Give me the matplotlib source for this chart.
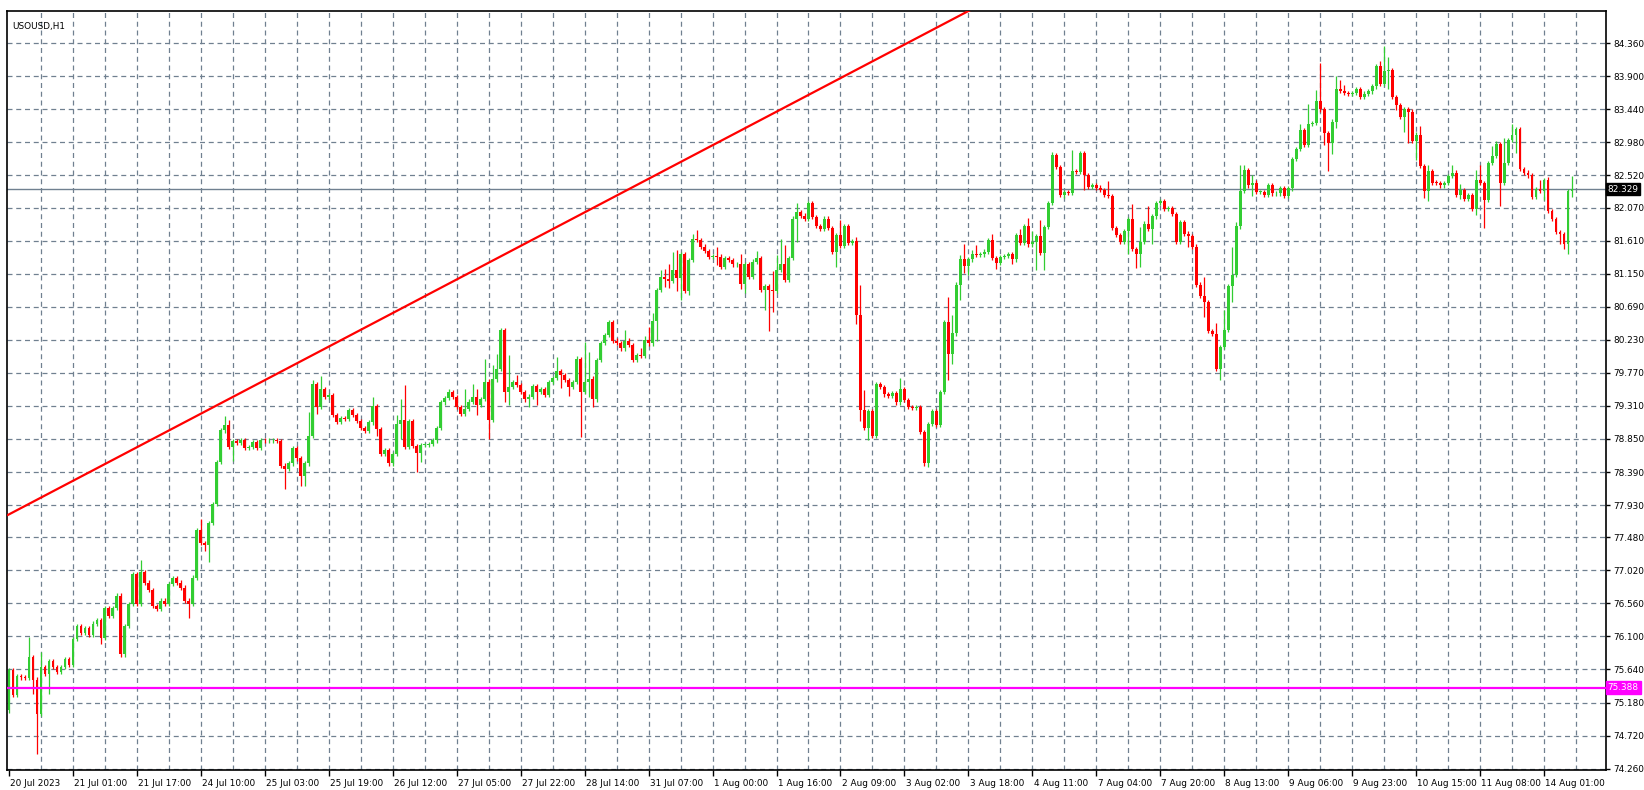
import matplotlib
matplotlib.use("Agg")
import matplotlib.pyplot as plt
import numpy as np

# hourly closes, USOUSD H1, 20 Jul 2023 .. 14 Aug 2023
closes = [
    75.63, 75.28, 75.55, 75.53, 75.52, 75.81, 75.50, 75.02, 75.67, 75.58,
    75.76, 75.67, 75.60, 75.67, 75.78, 75.70, 76.06, 76.25, 76.15, 76.22,
    76.12, 76.28, 76.33, 76.08, 76.50, 76.38, 76.50, 76.67, 75.85, 76.25,
    76.55, 76.97, 76.55, 77.00, 76.85, 76.75, 76.52, 76.48, 76.60, 76.55,
    76.83, 76.91, 76.85, 76.78, 76.60, 76.55, 76.92, 77.58, 77.40, 77.37,
    77.68, 77.94, 78.53, 78.97, 79.04, 78.74, 78.82, 78.80, 78.83, 78.72,
    78.74, 78.81, 78.73, 78.84, 78.83, 78.83, 78.84, 78.82, 78.48, 78.43,
    78.51, 78.72, 78.58, 78.33, 78.51, 78.89, 79.61, 79.30, 79.55, 79.43,
    79.46, 79.18, 79.09, 79.14, 79.13, 79.25, 79.18, 79.10, 79.00, 78.96,
    79.08, 79.31, 78.99, 78.64, 78.69, 78.51, 78.64, 79.06, 79.12, 78.74,
    79.10, 78.75, 78.65, 78.77, 78.77, 78.78, 78.83, 79.00, 79.36, 79.42,
    79.50, 79.43, 79.30, 79.20, 79.27, 79.37, 79.44, 79.32, 79.41, 79.65,
    79.12, 79.68, 79.83, 80.37, 79.50, 79.57, 79.64, 79.60, 79.50, 79.40,
    79.44, 79.59, 79.50, 79.54, 79.46, 79.64, 79.70, 79.79, 79.74, 79.67,
    79.57, 79.64, 79.96, 79.50, 79.64, 79.69, 79.40, 79.95, 80.19, 80.30,
    80.48, 80.22, 80.19, 80.11, 80.22, 80.16, 79.95, 80.02, 80.01, 80.23,
    80.18, 80.49, 80.92, 81.10, 81.08, 81.05, 81.20, 81.09, 81.43, 80.91,
    81.34, 81.64, 81.62, 81.53, 81.47, 81.39, 81.40, 81.39, 81.25, 81.37,
    81.34, 81.28, 81.29, 81.01, 81.28, 81.11, 81.32, 81.37, 80.92, 80.98,
    80.93, 80.91, 81.20, 81.29, 81.06, 81.37, 81.92, 82.01, 81.96, 81.91,
    82.14, 81.94, 81.82, 81.77, 81.92, 81.79, 81.46, 81.69, 81.54, 81.81,
    81.58, 81.61, 80.57, 79.26, 79.00, 79.24, 78.89, 79.62, 79.57, 79.47,
    79.45, 79.49, 79.36, 79.55, 79.39, 79.30, 79.28, 79.29, 78.95, 78.52,
    79.06, 79.24, 79.04, 79.50, 80.48, 80.03, 80.32, 81.00, 81.35, 81.26,
    81.35, 81.43, 81.41, 81.42, 81.46, 81.62, 81.37, 81.30, 81.38, 81.40,
    81.42, 81.35, 81.69, 81.58, 81.81, 81.56, 81.60, 81.67, 81.44, 81.80,
    82.14, 82.80, 82.64, 82.25, 82.29, 82.28, 82.58, 82.57, 82.83, 82.52,
    82.36, 82.39, 82.35, 82.32, 82.25, 82.23, 81.79, 81.69, 81.60, 81.74,
    81.91, 81.50, 81.43, 81.60, 81.85, 81.77, 81.95, 82.14, 82.16, 82.05,
    82.06, 81.98, 81.59, 81.87, 81.71, 81.67, 81.53, 81.00, 80.84, 80.76,
    80.35, 80.31, 79.83, 80.13, 80.37, 80.98, 81.14, 81.81, 82.30, 82.60,
    82.38, 82.42, 82.29, 82.29, 82.25, 82.38, 82.27, 82.27, 82.34, 82.23,
    82.34, 82.75, 82.89, 83.15, 82.94, 83.24, 83.25, 83.56, 83.44, 83.11,
    82.97, 83.27, 83.72, 83.70, 83.67, 83.65, 83.67, 83.72, 83.61, 83.66,
    83.69, 83.76, 84.04, 83.80, 83.97, 83.99, 83.61, 83.50, 83.34, 83.45,
    83.41, 83.00, 83.09, 82.65, 82.31, 82.58, 82.42, 82.41, 82.38, 82.41,
    82.51, 82.56, 82.25, 82.32, 82.19, 82.25, 82.05, 82.45, 82.41, 82.18,
    82.69, 82.79, 82.96, 82.42, 82.70, 83.01, 83.08, 83.16, 82.61, 82.56,
    82.52, 82.22, 82.33, 82.31, 82.45, 82.02, 81.91, 81.73, 81.70, 81.56,
    82.30, 82.33,
]
first_open = 75.07

# wick extremes that stick out noticeably
hi_spikes = {5: 76.09, 8: 75.88, 33: 77.16, 48: 77.73, 54: 79.17, 55: 79.12,
             75: 79.23, 76: 79.67, 78: 79.72, 91: 79.43, 97: 79.18, 98: 79.40,
             99: 79.60, 110: 79.54, 114: 79.55, 116: 79.61, 117: 79.54,
             119: 79.97, 121: 79.88, 122: 80.04, 123: 80.40, 125: 80.02,
             127: 79.74, 137: 79.99, 142: 80.01, 144: 80.20, 145: 80.06,
             150: 80.50, 154: 80.37, 158: 80.11, 159: 80.28, 160: 80.41,
             161: 80.60, 162: 80.94, 163: 81.20, 164: 81.22, 165: 81.28,
             166: 81.46, 167: 81.48, 171: 81.71, 172: 81.76, 177: 81.53,
             183: 81.43, 187: 81.47, 191: 81.19, 192: 81.41, 193: 81.64,
             194: 81.55, 196: 81.95, 197: 82.14, 208: 81.90, 212: 81.66,
             213: 81.00, 214: 79.53, 223: 79.70, 235: 80.83, 236: 80.57,
             238: 81.41, 239: 81.57, 241: 81.48, 242: 81.55, 246: 81.70,
             253: 81.77, 255: 81.93, 256: 81.74, 258: 81.90, 261: 82.85,
             262: 82.83, 266: 82.88, 268: 82.85, 275: 82.44, 281: 82.12,
             283: 81.80, 285: 82.09, 299: 81.11, 302: 80.46, 304: 80.64,
             306: 81.53, 307: 81.87, 308: 82.66, 309: 82.66, 311: 82.52,
             323: 83.24, 325: 83.52, 327: 83.71, 328: 84.09, 332: 83.90,
             333: 83.85, 334: 83.78, 342: 84.06, 343: 84.12, 344: 84.32,
             345: 84.17, 353: 83.21, 355: 82.66, 361: 82.66, 363: 82.40,
             367: 82.59, 368: 82.66, 371: 82.93, 372: 83.00, 374: 83.04,
             376: 83.24, 378: 83.18, 383: 82.45, 385: 82.50, 391: 82.51}
lo_spikes = {6: 75.30, 7: 74.46, 10: 75.30, 23: 75.99, 29: 75.81, 45: 76.35,
             49: 77.29, 50: 77.14, 56: 78.55, 69: 78.16, 73: 78.20, 74: 78.19,
             77: 79.20, 92: 78.89, 98: 78.85, 102: 78.39, 103: 78.53,
             117: 79.18, 120: 78.85, 121: 79.09, 124: 79.37, 125: 79.33,
             130: 79.30, 132: 79.33, 138: 79.56, 140: 79.45, 143: 78.88,
             145: 79.44, 146: 79.29, 162: 80.22, 164: 80.96, 165: 80.95,
             167: 80.91, 168: 80.79, 169: 80.88, 170: 80.85, 177: 81.27,
             183: 80.94, 184: 80.88, 189: 80.64, 190: 80.36, 191: 80.62,
             197: 81.60, 207: 81.25, 212: 80.45, 213: 79.10, 215: 78.83,
             229: 78.48, 230: 78.46, 235: 79.67, 236: 79.90, 238: 80.78,
             239: 81.16, 240: 81.13, 247: 81.22, 251: 81.28, 257: 81.21,
             259: 81.21, 264: 82.20, 269: 82.32, 280: 81.43, 282: 81.23,
             283: 81.25, 286: 81.57, 295: 81.53, 299: 80.55, 303: 79.67,
             306: 80.76, 308: 82.14, 311: 82.23, 329: 82.94, 330: 82.58,
             331: 82.82, 332: 83.18, 345: 83.73, 347: 83.43, 349: 83.13,
             350: 82.97, 352: 82.73, 354: 82.21, 355: 82.17, 363: 82.19,
             367: 81.97, 369: 81.79, 373: 82.09, 377: 82.83, 384: 82.18,
             388: 81.56, 389: 81.49, 390: 81.43, 391: 82.22}

price_ticks = [84.360, 83.900, 83.440, 82.980, 82.520, 82.070, 81.610, 81.150,
               80.690, 80.230, 79.770, 79.310, 78.850, 78.390, 77.930, 77.480,
               77.020, 76.560, 76.100, 75.640, 75.180, 74.720, 74.260]
time_labels = ["20 Jul 2023", "21 Jul 01:00", "21 Jul 17:00", "24 Jul 10:00",
               "25 Jul 03:00", "25 Jul 19:00", "26 Jul 12:00", "27 Jul 05:00",
               "27 Jul 22:00", "28 Jul 14:00", "31 Jul 07:00", "1 Aug 00:00",
               "1 Aug 16:00", "2 Aug 09:00", "3 Aug 02:00", "3 Aug 18:00",
               "4 Aug 11:00", "7 Aug 04:00", "7 Aug 20:00", "8 Aug 13:00",
               "9 Aug 06:00", "9 Aug 23:00", "10 Aug 15:00", "11 Aug 08:00",
               "14 Aug 01:00"]
bars_per_label = 16
bid_price = 82.329
hline_price = 75.388
trend_start = (0, 77.80)
trend_end = (240, 84.81)

GREEN = "#32cd32"
RED = "#ff0000"
GRID = "#708090"
FS = 6.4

c = np.array(closes)
o = np.concatenate([[first_open], c[:-1]])
x = np.arange(len(c))
hi = np.maximum(o, c) + 0.03
lo = np.minimum(o, c) - 0.03
for k, v in hi_spikes.items():
    hi[k] = max(hi[k], v)
for k, v in lo_spikes.items():
    lo[k] = min(lo[k], v)

W, H = 1644, 790
fig = plt.figure(figsize=(W / 100, H / 100), dpi=100)
ax = fig.add_axes([7 / W, 20 / H, (1606 - 7) / W, (770 - 11) / H])
ymin, ymax = 74.24, 84.81
ax.set_xlim(-0.5, 399.5)
ax.set_ylim(ymin, ymax)

# grid
for p in price_ticks:
    ax.axhline(p, color=GRID, lw=0.9, ls=(0, (4, 3)), zorder=0)
for b in range(8, 400, 8):
    ax.axvline(b, color=GRID, lw=0.9, ls=(0, (4, 3)), zorder=0)

up = c >= o
cols = np.where(up, GREEN, RED)
ax.vlines(x, lo, hi, colors=cols, lw=0.9, zorder=2)
body = np.maximum(np.abs(c - o), 0.012)
ax.bar(x, body, bottom=np.minimum(o, c), width=0.72, color=cols, lw=0, zorder=3)

# trend line and horizontals
slope = (trend_end[1] - trend_start[1]) / (trend_end[0] - trend_start[0])
xe = 260
ax.plot([trend_start[0] - 0.5, xe], [trend_start[1] - 0.5 * slope, trend_start[1] + slope * xe],
        color=RED, lw=1.6, zorder=4, solid_capstyle="butt")
ax.axhline(bid_price, color=GRID, lw=1.0, zorder=1)
ax.axhline(hline_price, color="#ff00ff", lw=1.6, zorder=4)

# axes look
for s in ax.spines.values():
    s.set_color("black")
    s.set_linewidth(1.2)
ax.yaxis.tick_right()
ax.set_yticks(price_ticks)
ax.set_yticklabels([f"{p:.3f}" for p in price_ticks], fontsize=FS)
ax.tick_params(axis="y", direction="out", length=3, width=1, pad=2)
ax.set_xticks([i * bars_per_label for i in range(len(time_labels))])
ax.set_xticklabels([])
ax.tick_params(axis="x", direction="out", length=4, width=1)
for i, lab in enumerate(time_labels):
    ax.text(i * bars_per_label + 0.3, -0.012, lab, transform=ax.get_xaxis_transform(),
            ha="left", va="top", fontsize=FS)

for price, bg in [(bid_price, "black"), (hline_price, "#ff00ff")]:
    ax.text(1.001, (price - ymin) / (ymax - ymin), f"{price:.3f}", transform=ax.transAxes,
            ha="left", va="center", fontsize=FS, color="white",
            bbox=dict(boxstyle="square,pad=0.2", fc=bg, ec=bg))

ax.text(0.003, 0.985, "USOUSD,H1", transform=ax.transAxes, ha="left", va="top", fontsize=FS)

fig.savefig("out.png", dpi=100, facecolor="white")
